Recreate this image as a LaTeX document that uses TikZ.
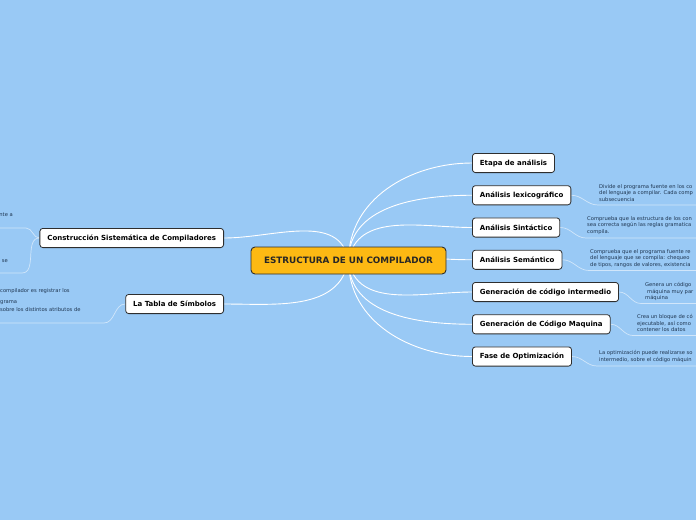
\documentclass[tikz,border=0pt]{standalone}
\usepackage{fontspec}
\setmainfont{DejaVu Sans}
\usetikzlibrary{positioning,backgrounds}
\definecolor{fondo}{HTML}{99C9F5}
\definecolor{centro}{HTML}{FDB913}
\definecolor{borde}{HTML}{2E2E2E}
\definecolor{texto}{HTML}{1E3550}

\begin{document}
\begin{tikzpicture}[
  x=1pt, y=-1pt,
  node distance=12.25pt,
  raiz/.style={rectangle, rounded corners=4pt, draw=borde, fill=centro, line width=0.9pt,
               minimum width=195pt, minimum height=27pt, font=\fontsize{8.8}{10}\bfseries, text=black!85},
  tema/.style={rectangle, rounded corners=3pt, draw=borde, fill=white, line width=0.8pt,
               minimum height=19.2pt, inner xsep=7.5pt, font=\fontsize{7}{8}\bfseries},
  nota/.style={inner sep=0pt, align=left, text=texto, font=\fontsize{5.2}{6.8}\selectfont},
  rama/.style={draw=white, line width=0.9pt},
  hilo/.style={draw=white, opacity=0.55, line width=0.7pt}
]
\useasboundingbox (0,0) rectangle (696,520);
\clip (0,0) rectangle (696,520);

\node[raiz] (raiz) at (348.5,260.5) {ESTRUCTURA DE UN COMPILADOR};

% rama derecha
\node[tema, anchor=west] (etapa) at (472,163) {Etapa de análisis};
\node[tema, below=of etapa.south west, anchor=north west] (lexico) {Análisis lexicográfico};
\node[tema, below=of lexico.south west, anchor=north west] (sintaxis) {Análisis Sintáctico};
\node[tema, below=of sintaxis.south west, anchor=north west] (semantica) {Análisis Semántico};
\node[tema, below=of semantica.south west, anchor=north west] (intermedio) {Generación de código intermedio};
\node[tema, below=of intermedio.south west, anchor=north west] (maquina) {Generación de Código Maquina};
\node[tema, below=of maquina.south west, anchor=north west] (optimiza) {Fase de Optimización};

% rama izquierda
\node[tema, anchor=east] (construye) at (224,238) {Construcción Sistemática de Compiladores};
\node[tema, anchor=east] (tabla) at (224,304) {La Tabla de Símbolos};

% notas
\node[nota, anchor=north west] (nlexico) at (599,184) {Divide el programa fuente en los co\\del lenguaje a compilar. Cada comp\\subsecuencia};
\node[nota, anchor=north west] (nsintaxis) at (587,216) {Comprueba que la estructura de los con\\sea correcta según las reglas gramatica\\compila.};
\node[nota, anchor=north west] (nsemantica) at (590,249) {Comprueba que el programa fuente re\\del lenguaje que se compila: chequeo\\de tipos, rangos de valores, existencia};
\node[nota, anchor=north west] (nintermedio) at (645,282) {Genera un código\\\hspace{2pt}máquina muy par\\máquina};
\node[nota, anchor=north west] (nmaquina) at (637,314) {Crea un bloque de có\\ejecutable, así como\\contener los datos};
\node[nota, anchor=north west] (noptimiza) at (599,350) {La optimización puede realizarse so\\intermedio, sobre el código máquin};

\node[nota, anchor=east] (nconsA) at (13,215) {nte a};
\node[nota, anchor=east] (nconsB) at (8,261) {se};
\node[nota, anchor=west] (ntablaA) at (0,291) {compilador es registrar los};
\node[nota, anchor=west] (ntablaB) at (0,303) {grama};
\node[nota, anchor=west] (ntablaC) at (0,310) {sobre los distintos atributos de};

\coordinate (lexA) at (598,205);   \coordinate (lexB) at (700,205);
\coordinate (sinA) at (586,238);   \coordinate (sinB) at (700,238);
\coordinate (semA) at (589,270.5); \coordinate (semB) at (700,270.5);
\coordinate (intA) at (641,303.5); \coordinate (intB) at (700,303.5);
\coordinate (maqA) at (633,335.5); \coordinate (maqB) at (700,335.5);
\coordinate (optA) at (597,366);   \coordinate (optB) at (700,366);
\coordinate (conA) at (26,228);    \coordinate (conB) at (-5,228);
\coordinate (conC) at (22,273);    \coordinate (conD) at (-5,273);
\coordinate (tabA) at (104,323);   \coordinate (tabB) at (-5,323);

\begin{pgfonlayer}{background}
\fill[fondo] (0,0) rectangle (696,520);
\draw[rama] (raiz.center) to[out=90,in=180] (etapa.west);
\draw[rama] (raiz.center) to[out=90,in=180] (lexico.west);
\draw[rama] (raiz.center) to[out=80,in=180] (sintaxis.west);
\draw[rama] (raiz.center) to[out=10,in=180] (semantica.west);
\draw[rama] (raiz.center) to[out=-80,in=180] (intermedio.west);
\draw[rama] (raiz.center) to[out=-90,in=180] (maquina.west);
\draw[rama] (raiz.center) to[out=-90,in=180] (optimiza.west);
\draw[rama] (raiz.center) to[out=100,in=0] (construye.east);
\draw[rama] (raiz.center) to[out=-100,in=0] (tabla.east);

\draw[hilo] (lexico.east) to[out=0,in=180] (lexA) -- (lexB);
\draw[hilo] (sintaxis.east) to[out=0,in=180] (sinA) -- (sinB);
\draw[hilo] (semantica.east) to[out=0,in=180] (semA) -- (semB);
\draw[hilo] (intermedio.east) to[out=0,in=180] (intA) -- (intB);
\draw[hilo] (maquina.east) to[out=0,in=180] (maqA) -- (maqB);
\draw[hilo] (optimiza.east) to[out=0,in=180] (optA) -- (optB);
\draw[hilo] (construye.west) to[out=180,in=0] (conA) -- (conB);
\draw[hilo] (construye.west) to[out=180,in=0] (conC) -- (conD);
\draw[hilo] (tabla.west) to[out=180,in=0] (tabA) -- (tabB);
\end{pgfonlayer}
\end{tikzpicture}
\end{document}
